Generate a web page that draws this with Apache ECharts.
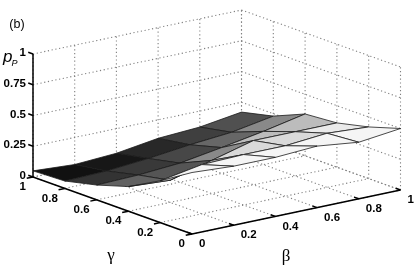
<!DOCTYPE html>
<html><head><meta charset="utf-8">
<style>html,body{margin:0;padding:0;background:#fff}#c{width:415px;height:271px}</style>
<script src="https://cdn.jsdelivr.net/npm/echarts@6/dist/echarts.min.js"></script>
</head><body><div id="c"></div>
<script>
// Data: surface heights p_P, one row per gamma, columns are beta 0..1
const betaTicks  = [0, 0.2, 0.4, 0.6, 0.8, 1];
const gammaTicks = [0, 0.2, 0.4, 0.6, 0.8, 1];
const pTicks     = [0, 0.25, 0.5, 0.75, 1];
const pGamma0   = [0.50, 0.48, 0.48, 0.50, 0.46, 0.50];
const pGamma02  = [0.34, 0.40, 0.41, 0.41, 0.44, 0.42];
const pGamma04  = [0.20, 0.18, 0.27, 0.36, 0.36, 0.36];
const pGamma06  = [0.12, 0.13, 0.155, 0.21, 0.27, 0.34];
const pGamma08  = [0.06, 0.07, 0.10, 0.14, 0.17, 0.23];
const pGamma1   = [0.05, 0.03, 0.05, 0.10, 0.12, 0.17];
const surface = [pGamma0, pGamma02, pGamma04, pGamma06, pGamma08, pGamma1];

// View projection of the 3D box on the plane of the hidden 2D axes
const O = [192, 234], BV = [208.5, -44], GV = [-159, -57], PV = -123;
const proj = (b, g, p) => [O[0] + BV[0]*b + GV[0]*g, O[1] + BV[1]*b + GV[1]*g + PV*p];

const chart = echarts.init(document.getElementById('c'), null, {renderer: 'canvas'});

const FONT = '"Liberation Sans", Arial, sans-serif';
const SERIF = '"Liberation Serif", "Times New Roman", serif';

function line(api, a, b, style) {
  const p1 = api.coord(a), p2 = api.coord(b);
  return {type: 'line', shape: {x1: p1[0], y1: p1[1], x2: p2[0], y2: p2[1]}, style};
}
const dotted = {stroke: '#808080', lineWidth: 1.1, lineDash: [1.2, 2.6], fill: null};
const solid  = {stroke: '#000', lineWidth: 1.5, fill: null};

// grid line segments: [b1,g1,p1,b2,g2,p2]
const gridSegs = [];
betaTicks.forEach(b => {
  gridSegs.push([b, 0, 0, b, 1, 0]);
  gridSegs.push([b, 1, 0, b, 1, 1]);
});
gammaTicks.forEach(g => {
  gridSegs.push([0, g, 0, 1, g, 0]);
  gridSegs.push([1, g, 0, 1, g, 1]);
});
pTicks.forEach(p => {
  gridSegs.push([0, 1, p, 1, 1, p]);
  gridSegs.push([1, 1, p, 1, 0, p]);
});

// facets painted back to front
const facets = [];
for (let gi = gammaTicks.length - 2; gi >= 0; gi--)
  for (let bi = betaTicks.length - 2; bi >= 0; bi--) facets.push([bi, gi]);

const gray = p => { const v = Math.max(0, Math.min(245, Math.round((p - 0.03) / 0.43 * 245))); return `rgb(${v},${v},${v})`; };

// axis lines + ticks
const axisSegs = [[0, 1, 0, 0, 1, 1], [0, 1, 0, 0, 0, 0], [0, 0, 0, 1, 0, 0]];
const TICK = 0.03;
gammaTicks.forEach(g => axisSegs.push([0, g, 0, -TICK, g, 0]));
betaTicks.forEach(b => axisSegs.push([b, 0, 0, b, TICK, 0]));
pTicks.forEach(p => axisSegs.push([0, 1, p, 0, 1 + TICK, p]));

// labels: [text, x, y, align, font, size, weight]
const labels = [];
pTicks.forEach(p => { const c = proj(0, 1, p); labels.push([String(p), c[0] - 7, c[1] - 1, 'right', FONT, 11.5, 'bold']); });
gammaTicks.forEach(g => { const c = proj(0, g, 0); labels.push([String(g), c[0] - 7, c[1] + 10, 'right', FONT, 11.5, 'bold']); });
betaTicks.forEach(b => { const c = proj(b, 0, 0); labels.push([String(b), c[0] + 7, c[1] + 10, 'left', FONT, 11.5, 'bold']); });
labels.push(['γ', 111, 256, 'center', SERIF, 17, 'normal']);
labels.push(['β', 286, 257, 'center', SERIF, 17, 'normal']);
labels.push(['(b)', 17, 25, 'center', FONT, 12.5, 'normal']);

const option = {
  animation: false,
  grid: {left: 0, right: 0, top: 0, bottom: 0},
  xAxis: {type: 'value', min: 0, max: 415, show: false},
  yAxis: {type: 'value', min: 0, max: 271, inverse: true, show: false},
  series: [
    {type: 'custom', coordinateSystem: 'cartesian2d', silent: true, clip: false, z: 1,
     data: gridSegs,
     renderItem: (params, api) => {
       const s = gridSegs[params.dataIndex];
       return line(api, proj(s[0], s[1], s[2]), proj(s[3], s[4], s[5]), dotted);
     }},
    {type: 'custom', coordinateSystem: 'cartesian2d', silent: true, clip: false, z: 2,
     data: facets,
     renderItem: (params, api) => {
       const [bi, gi] = facets[params.dataIndex];
       const pts = [[bi, gi], [bi + 1, gi], [bi + 1, gi + 1], [bi, gi + 1]]
         .map(([i, j]) => api.coord(proj(betaTicks[i], gammaTicks[j], surface[j][i])));
       return {type: 'polygon', shape: {points: pts},
               style: {fill: gray(surface[gi][bi]), stroke: '#1c1c1c', lineWidth: 0.8}};
     }},
    {type: 'custom', coordinateSystem: 'cartesian2d', silent: true, clip: false, z: 3,
     data: axisSegs,
     renderItem: (params, api) => {
       const s = axisSegs[params.dataIndex];
       return line(api, proj(s[0], s[1], s[2]), proj(s[3], s[4], s[5]), solid);
     }},
    {type: 'custom', coordinateSystem: 'cartesian2d', silent: true, clip: false, z: 4,
     data: labels,
     renderItem: (params, api) => {
       const l = labels[params.dataIndex];
       const c = api.coord([l[1], l[2]]);
       return {type: 'text', x: c[0], y: c[1],
               style: {text: l[0], align: l[3], verticalAlign: 'middle', fill: '#000',
                       font: `${l[6]} ${l[5]}px ${l[4]}`}};
     }},
    {type: 'custom', coordinateSystem: 'cartesian2d', silent: true, clip: false, z: 4,
     data: [['p', 'P']],
     renderItem: (params, api) => {
       const c = api.coord([3, 57]), d = api.coord([11.5, 63]);
       return {type: 'group', children: [
         {type: 'text', x: c[0], y: c[1], style: {text: 'p', align: 'left', verticalAlign: 'middle', fill: '#000', font: `italic 17px ${FONT}`}},
         {type: 'text', x: d[0], y: d[1], style: {text: 'P', align: 'left', verticalAlign: 'middle', fill: '#000', font: `italic 9px ${FONT}`}}
       ]};
     }}
  ]
};
chart.setOption(option);
</script></body></html>
